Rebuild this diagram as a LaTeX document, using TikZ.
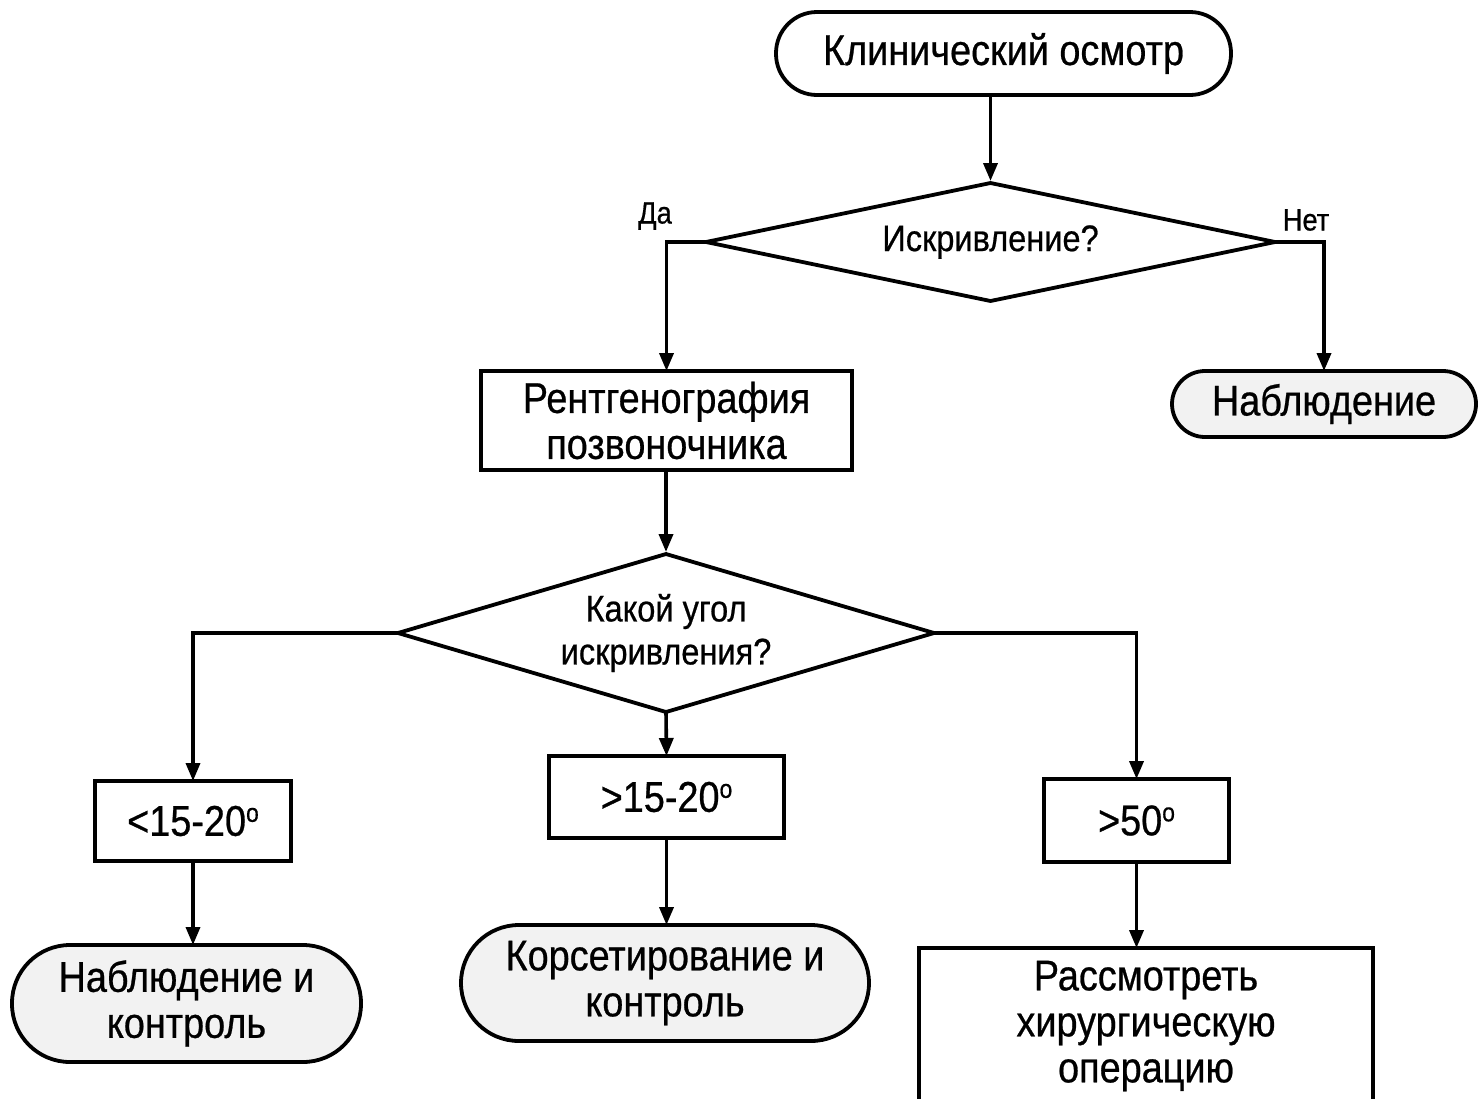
\documentclass[tikz,border=0pt]{standalone}
\usepackage{fontspec}
\setmainfont{Liberation Sans}[FakeStretch=0.88,FakeBold=0.6]
\usetikzlibrary{arrows.meta,shapes.geometric}
\newcommand{\degsup}{{\fontsize{26}{26}\selectfont\raisebox{14pt}{o}}}
\begin{document}
\begin{tikzpicture}[x=1pt,y=-1pt,
  every node/.style={inner sep=0pt, outer sep=0pt, align=center},
  lbl/.style={font=\fontsize{43}{46}\selectfont},
  small/.style={font=\fontsize{37}{43}\selectfont},
  boxnode/.style={draw, line width=3.8pt, rectangle, lbl},
  termnode/.style={draw, line width=3.8pt, rectangle, lbl},
  decnode/.style={draw, line width=3.8pt, diamond, small},
  conn/.style={line width=3.6pt, -{Triangle[width=14pt,length=18pt]}},
  yn/.style={font=\fontsize{31}{34}\selectfont}]
\useasboundingbox (0,0) rectangle (1479,1098);
\clip (0,0) rectangle (1479,1098);
\fill[white] (0,0) rectangle (1479,1098);

\node[termnode, fill=white, minimum width=455pt, minimum height=83pt, rounded corners=41pt] (start) at (1003.5,53.5) {Клинический осмотр};
\node[decnode, aspect=4.82, minimum width=569pt, minimum height=118pt] (d1) at (990.5,242) {Искривление?};
\node[boxnode, minimum width=371pt, minimum height=99pt] (rtg) at (666.5,420.5) {Рентгенография\\позвоночника};
\node[termnode, fill=black!5, minimum width=304pt, minimum height=66pt, rounded corners=33pt] (nab) at (1324,404) {Наблюдение};
\node[decnode, aspect=3.39, minimum width=536pt, minimum height=158pt] (d2) at (666,633) {Какой угол\\искривления?};
\node[boxnode, minimum width=196pt, minimum height=80pt] (b1) at (193,821) {<15-20\degsup};
\node[boxnode, minimum width=235pt, minimum height=82pt] (b2) at (666.5,797) {>15-20\degsup};
\node[boxnode, minimum width=185pt, minimum height=83pt] (b3) at (1136.5,820.5) {>50\degsup};
\node[termnode, fill=black!5, minimum width=349pt, minimum height=117pt, rounded corners=58pt] (t1) at (186.5,1003.5) {Наблюдение и\\контроль};
\node[termnode, fill=black!5, minimum width=408pt, minimum height=116pt, rounded corners=58pt] (t2) at (665,983) {Корсетирование и\\контроль};
\node[boxnode, minimum width=454pt, minimum height=156pt] (b4) at (1146,1026) {Рассмотреть\\хирургическую\\операцию};

\node[yn] (yes) at (655,216) {Да};
\node[yn] (no) at (1306,220) {Нет};

\draw[conn, shorten >=2pt] (d1.north |- start.south) -- (d1.north);
\draw[conn] (d1.west) -| (rtg.north);
\draw[conn] (d1.east) -| (nab.north);
\draw[conn, shorten >=2pt] (d2.north |- rtg.south) -- (d2.north);
\draw[conn] (d2.west) -| (b1.north);
\draw[conn] (d2.south) -- (b2.north);
\draw[conn] (d2.east) -| (b3.north);
\draw[conn] (b1.south) -- (b1.south |- t1.north);
\draw[conn] (b2.south) -- (b2.south |- t2.north);
\draw[conn] (b3.south) -- (b3.south |- b4.north);
\end{tikzpicture}
\end{document}
